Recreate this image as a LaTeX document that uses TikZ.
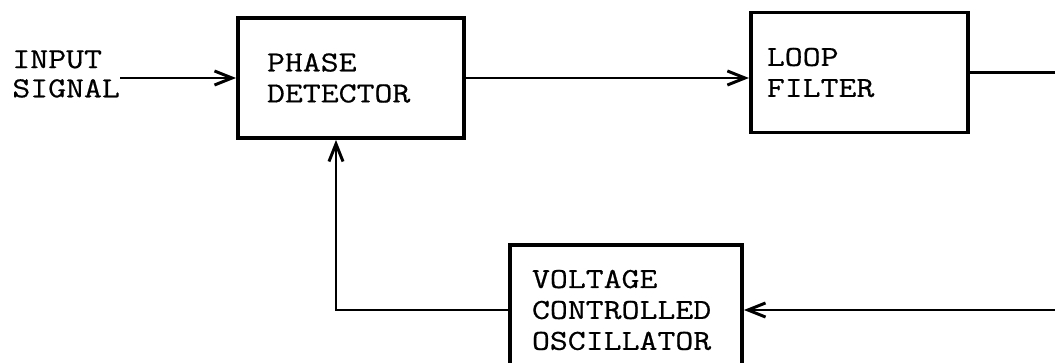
\documentclass[tikz,border=0pt]{standalone}
\usepackage{fontspec}
\setmonofont[FakeStretch=1.2, FakeBold=0.6]{Latin Modern Mono}
\usetikzlibrary{arrows.meta, positioning}

\begin{document}
\begin{tikzpicture}[
    blockbox/.style={rectangle, draw=black, line width=2.2pt, align=left, minimum height=2.4cm, font=\ttfamily\fontsize{16.5pt}{17.6pt}\selectfont},
    arrow/.style={-{Straight Barb[length=10pt, width=8pt]}, line width=1.7pt},
    wire/.style={line width=1.7pt},
    sigtext/.style={font=\ttfamily\fontsize{16.5pt}{16.6pt}\selectfont, align=left, inner sep=0pt}
]
\useasboundingbox (0,0) rectangle (21.1,7.24);
\clip (0,0) rectangle (21.1,7.24);

\node[blockbox, text width=3.36cm, inner xsep=0.58cm] (phase) at (7.02,5.68) {PHASE\\DETECTOR};
\node[blockbox, text width=3.7cm, inner xsep=0.32cm, right=5.66cm of phase, yshift=1.1mm] (loop) {LOOP\\FILTER};
\node[blockbox, text width=3.76cm, inner xsep=0.44cm, minimum height=2.6cm] (vco) at (12.52,1.04) {VOLTAGE\\CONTROLLED\\OSCILLATOR};
\node[sigtext, anchor=west] (insig) at (0.24,5.76) {INPUT\\SIGNAL};

% loop closes off the right edge
\coordinate (outR) at (21.3,0);
\coordinate (inR) at (21.3,0);

\draw[arrow] (insig.east |- phase.west) -- (phase.west);
\draw[arrow] (phase.east) -- (phase.east -| loop.west);
\draw[wire] (loop.east) -- (loop.east -| outR);
\draw[arrow] (vco.east -| inR) -- (vco.east);
\draw[arrow] (vco.west) -| ([xshift=-3mm]phase.south);

\end{tikzpicture}
\end{document}
